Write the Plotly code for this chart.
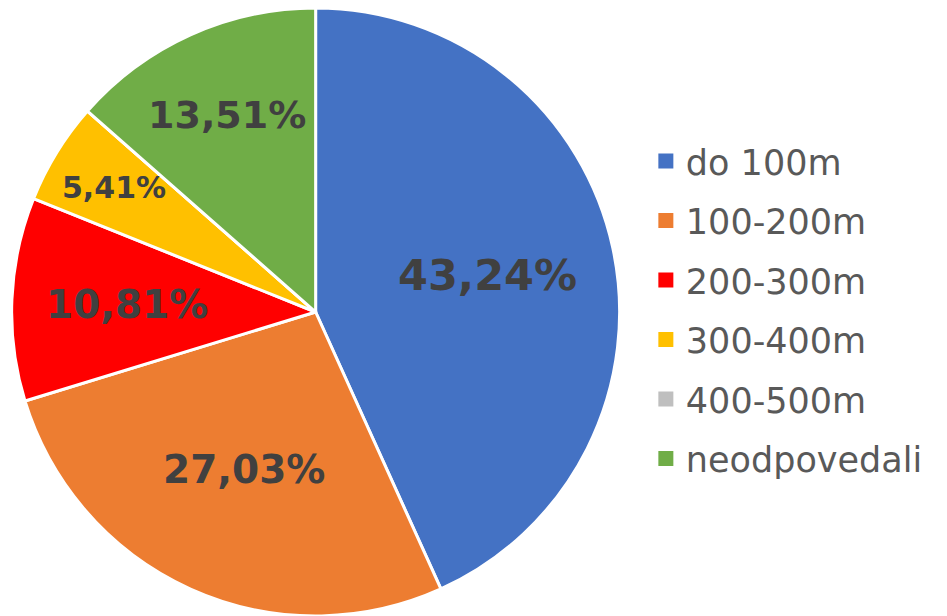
import math
import plotly.graph_objects as go

categories = ["do 100m", "100-200m", "200-300m", "300-400m", "400-500m", "neodpovedali"]
values = [43.24, 27.03, 10.81, 5.41, 0.0, 13.51]
labels_text = ["43,24%", "27,03%", "10,81%", "5,41%", "", "13,51%"]
colors = ["#4472C4", "#ED7D31", "#FF0000", "#FFC000", "#BFBFBF", "#70AD47"]

# label styling (font size, radial fraction along slice bisector)
text_sizes = [43, 39, 39, 30, 30, 38]
label_radius = [0.58, 0.57, 0.62, 0.78, 0.7, 0.71]

W, H = 947, 616
dom_x = [0.0106, 0.656]
dom_y = [0.0, 0.987]

fig = go.Figure(go.Pie(
    labels=categories,
    values=values,
    textinfo="none",
    sort=False,
    direction="clockwise",
    rotation=0,
    marker=dict(colors=colors, line=dict(color="white", width=3)),
    domain=dict(x=dom_x, y=dom_y),
    showlegend=False,
    hoverinfo="label+percent",
))

# data labels along slice bisectors
total = sum(values)
r_px = min((dom_x[1] - dom_x[0]) * W, (dom_y[1] - dom_y[0]) * H) / 2
cx = (dom_x[0] + dom_x[1]) / 2
cy = (dom_y[0] + dom_y[1]) / 2
cum = 0.0
for v, t, fs, fr in zip(values, labels_text, text_sizes, label_radius):
    mid = (cum + v / 2) / total * 2 * math.pi
    cum += v
    if not t:
        continue
    fig.add_annotation(
        x=cx + fr * r_px * math.sin(mid) / W,
        y=cy + fr * r_px * math.cos(mid) / H,
        xref="paper", yref="paper", showarrow=False,
        xanchor="center", yanchor="middle",
        text=t,
        font=dict(family="DejaVu Sans", size=fs, color="#404040", weight="bold"),
    )

# legend entries
for i, (c, col) in enumerate(zip(categories, colors)):
    fig.add_trace(go.Scatter(
        x=[None], y=[None], mode="markers", name=c,
        marker=dict(symbol="square", size=15, color=col),
        legendgroup=f"g{i}", showlegend=True, hoverinfo="skip",
    ))

fig.update_layout(
    width=W, height=H,
    margin=dict(l=0, r=0, t=0, b=0),
    paper_bgcolor="white",
    plot_bgcolor="white",
    xaxis=dict(visible=False, domain=[0.95, 1.0]),
    yaxis=dict(visible=False),
    legend=dict(
        x=0.682, y=0.497, xanchor="left", yanchor="middle",
        font=dict(family="DejaVu Sans", size=35, color="#595959"),
        traceorder="grouped",
        tracegroupgap=11,
        itemwidth=30,
        bgcolor="rgba(0,0,0,0)",
    ),
)

fig.write_html("out.html")
